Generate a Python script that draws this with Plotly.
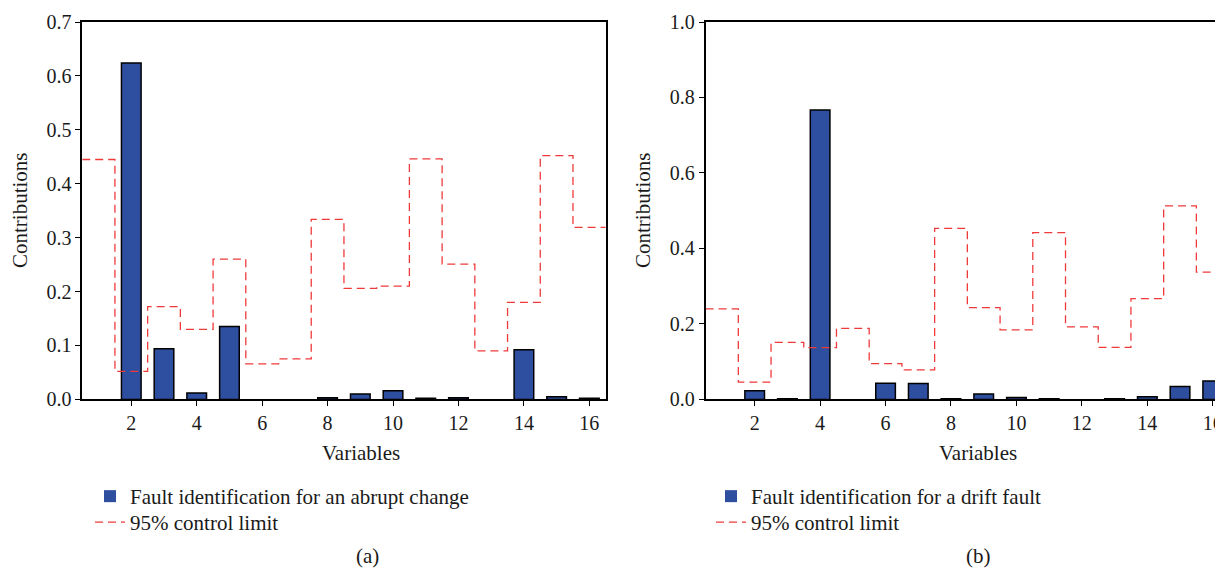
import plotly.graph_objects as go

variables = [1, 2, 3, 4, 5, 6, 7, 8, 9, 10, 11, 12, 13, 14, 15, 16]

abrupt_contrib = [0.0, 0.624, 0.094, 0.012, 0.135, 0.0, 0.0, 0.003, 0.010, 0.016,
                  0.002, 0.003, 0.0, 0.092, 0.005, 0.002]
abrupt_limit = [0.445, 0.052, 0.172, 0.130, 0.260, 0.066, 0.075, 0.334, 0.206, 0.210,
                0.446, 0.251, 0.090, 0.180, 0.452, 0.319]

drift_contrib = [0.0, 0.023, 0.002, 0.767, 0.0, 0.043, 0.042, 0.002, 0.014, 0.005,
                 0.002, 0.0, 0.002, 0.007, 0.034, 0.049]
drift_limit = [0.240, 0.046, 0.151, 0.137, 0.188, 0.095, 0.078, 0.453, 0.243, 0.184,
               0.442, 0.192, 0.138, 0.267, 0.513, 0.337]

left_ticks = [0.0, 0.1, 0.2, 0.3, 0.4, 0.5, 0.6, 0.7]
right_ticks = [0.0, 0.2, 0.4, 0.6, 0.8, 1.0]
x_ticks = [2, 4, 6, 8, 10, 12, 14, 16]

W, H = 1223, 571
OFF = 8  # page body margin offset of the figure on screen
FONT = "Liberation Serif"
BAR_COLOR = "#2e4f9f"
RED = "#f03a3a"
TXT = "#1a1a1a"


def px(x):
    return (x - OFF) / W


def py(y):
    return 1 - (y - OFF) / H


# step line extended half a unit on each side
x_ext = [variables[0] - 0.5] + variables + [variables[-1] + 0.5]


def ext(vals):
    return [vals[0]] + vals + [vals[-1]]


def outline(vals):
    return [1.5 if v > 0 else 0 for v in vals]


fig = go.Figure()

fig.add_trace(go.Bar(x=variables, y=abrupt_contrib, width=0.6,
                     marker=dict(color=BAR_COLOR,
                                 line=dict(color="black", width=outline(abrupt_contrib))),
                     name="Fault identification for an abrupt change",
                     xaxis="x", yaxis="y", legend="legend"))
fig.add_trace(go.Scatter(x=x_ext, y=ext(abrupt_limit), mode="lines", line_shape="hvh",
                         line=dict(color=RED, width=1.3, dash="8px,5px"),
                         name="95% control limit", xaxis="x", yaxis="y", legend="legend2"))

fig.add_trace(go.Bar(x=variables, y=drift_contrib, width=0.6,
                     marker=dict(color=BAR_COLOR,
                                 line=dict(color="black", width=outline(drift_contrib))),
                     name="Fault identification for a drift fault",
                     xaxis="x2", yaxis="y2", legend="legend3"))
fig.add_trace(go.Scatter(x=x_ext, y=ext(drift_limit), mode="lines", line_shape="hvh",
                         line=dict(color=RED, width=1.3, dash="8px,5px"),
                         name="95% control limit", xaxis="x2", yaxis="y2", legend="legend4"))

axis_common = dict(showgrid=False, zeroline=False, showline=True, linecolor="black",
                   linewidth=1.5, ticks="outside", ticklen=5, tickwidth=1.2,
                   tickcolor="black", automargin=False,
                   tickfont=dict(family=FONT, size=20, color=TXT))

left_x0, left_x1 = 82.2, 605.7
right_x0 = 705.6
unit = (left_x1 - left_x0) / 16.0
y_top, y_bot = 22, 399.4


def legend_at(xs, ys):
    # xs, ys: screen position of the legend box top-left
    return dict(x=px(xs), y=py(ys), xanchor="left", yanchor="top",
                font=dict(family=FONT, size=21, color=TXT), tracegroupgap=0,
                itemwidth=30, bgcolor="rgba(0,0,0,0)")


fig.update_layout(
    width=W, height=H,
    margin=dict(l=0, r=0, t=0, b=0, autoexpand=False),
    paper_bgcolor="white", plot_bgcolor="white",
    xaxis=dict(domain=[px(left_x0), px(left_x1)], range=[0.5, 16.5], tickvals=x_ticks,
               mirror=True, anchor="y", **axis_common),
    yaxis=dict(domain=[py(y_bot), py(y_top)], range=[0, 0.7], tickvals=left_ticks,
               tickformat=".1f", mirror=True, anchor="x", **axis_common),
    xaxis2=dict(domain=[px(right_x0), 1.0], range=[0.5, 0.5 + (W + OFF - right_x0) / unit],
                tickvals=x_ticks, mirror=True, anchor="y2", **axis_common),
    yaxis2=dict(domain=[py(y_bot), py(y_top)], range=[0, 1.0], tickvals=right_ticks,
                tickformat=".1f", mirror=False, anchor="x2", **axis_common),
    legend=legend_at(90, 476),
    legend2=legend_at(90, 502),
    legend3=legend_at(711, 476),
    legend4=legend_at(711, 502),
    showlegend=True,
)

ann_font = dict(family=FONT, size=21, color=TXT)
annotations = [
    dict(text="Variables", x=px(361), y=py(453)),
    dict(text="Variables", x=px(978), y=py(453)),
    dict(text="(a)", x=px(367), y=py(556)),
    dict(text="(b)", x=px(978), y=py(556)),
    dict(text="Contributions", x=px(20), y=py(210), textangle=-90),
    dict(text="Contributions", x=px(643), y=py(210), textangle=-90),
]
for a in annotations:
    fig.add_annotation(xref="paper", yref="paper", showarrow=False, font=ann_font,
                       xanchor="center", yanchor="middle", **a)

fig.write_html("out.html")
